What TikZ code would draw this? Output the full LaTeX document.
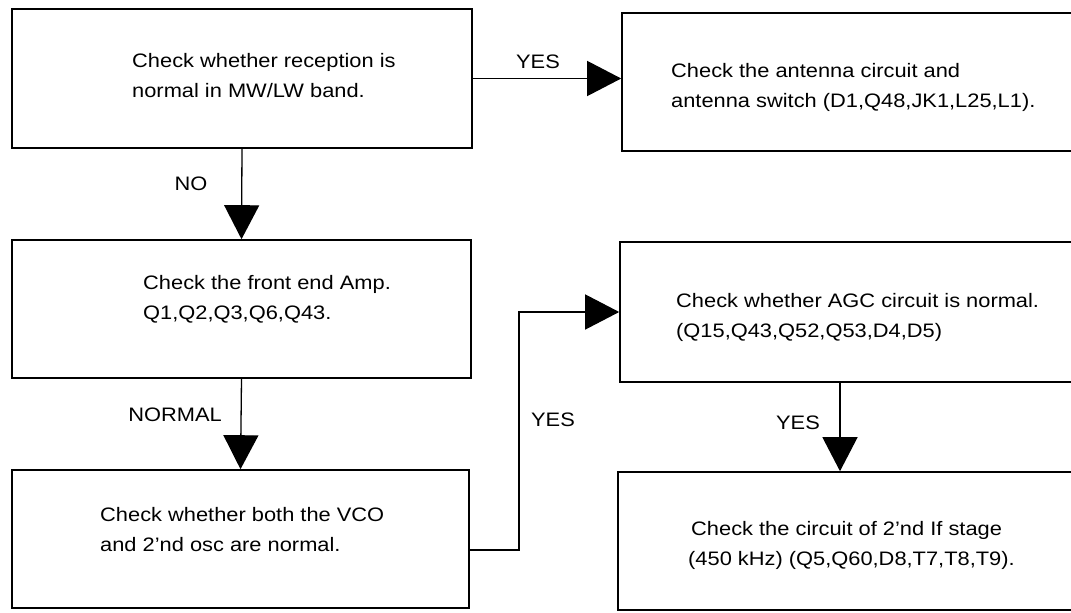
\documentclass[tikz,border=0pt]{standalone}
\usepackage{fontspec}
\setmainfont{Liberation Sans}[FakeStretch=1.12]
\usetikzlibrary{arrows.meta}
\begin{document}
\begin{tikzpicture}[x=1pt,y=-1pt,
  box/.style={draw, line width=1.6pt, inner sep=0pt},
  txt/.style={anchor=west, align=left, inner sep=0pt, font=\fontsize{19.5}{30}\selectfont},
  lbl/.style={inner sep=0pt, font=\fontsize{19.5}{22}\selectfont},
  conn/.style={line width=1.3pt, -{Triangle[length=34pt,width=35pt]}}]
\useasboundingbox[fill=white] (0,0) rectangle (1071,613);
% boxes
\node[box, minimum width=460, minimum height=139] (B1) at (242,78.5) {};
\node[box, minimum width=456, minimum height=138] (B2) at (850,82) {};
\node[box, minimum width=459, minimum height=138] (B3) at (241.5,309) {};
\node[box, minimum width=458, minimum height=140] (B4) at (849,312) {};
\node[box, minimum width=457, minimum height=138] (B5) at (240.5,539) {};
\node[box, minimum width=460, minimum height=138] (B6) at (848,541) {};
% texts
\node[txt] (T1) at (132,76) {Check whether reception is\\normal in MW/LW band.};
\node[txt] (T2) at (671,87) {Check the antenna circuit and\\antenna switch (D1,Q48,JK1,L25,L1).};
\node[txt] (T3) at (143,299) {Check the front end Amp.\\Q1,Q2,Q3,Q6,Q43.};
\node[txt] (T4) at (676,317) {Check whether AGC circuit is normal.\\(Q15,Q43,Q52,Q53,D4,D5)};
\node[txt] (T5) at (100,530) {Check whether both the VCO\\and 2'nd osc are normal.};
\node[txt] (T6) at (688,545) {\hspace*{3pt}Check the circuit of 2'nd If stage\\(450 kHz) (Q5,Q60,D8,T7,T8,T9).};
% connectors
\coordinate (c1) at (519,550);
\coordinate (c2) at (840,0);
\draw[conn] (B1.east) -- (B1.east -| B2.west);
\draw[conn] (B1.south) -- (B3.north);
\draw[conn] (B3.south) -- (B5.north);
\draw[conn] (B5.east |- c1) -- (c1) |- (B4.west);
\draw[conn] (B4.south -| c2) -- (B6.north -| c2);
% labels
\node[lbl] (L1) at (538,62) {YES};
\node[lbl] (L2) at (191,184) {NO};
\node[lbl] (L3) at (175,415) {NORMAL};
\node[lbl] (L4) at (553,420) {YES};
\node[lbl] (L5) at (798,423) {YES};
\end{tikzpicture}
\end{document}
